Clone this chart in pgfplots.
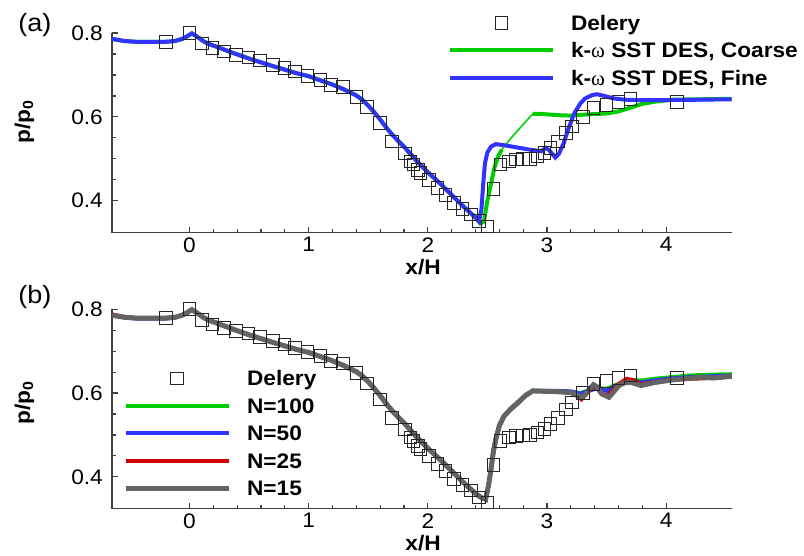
\documentclass[border=0pt]{standalone}
\usepackage{fontspec}
\setmainfont[FakeStretch=1.08]{Liberation Sans}
\newfontfamily\grk{Liberation Serif}
\usepackage{pgfplots}
\pgfplotsset{compat=1.18}

\definecolor{cgreen}{RGB}{0,204,0}
\definecolor{cblue}{RGB}{51,51,255}
\definecolor{cred}{RGB}{210,0,0}
\definecolor{cgray}{RGB}{100,100,100}

% experimental points (Delery)
\pgfplotstableread{
x y
-0.198 0.779
0.00 0.800
0.104 0.775
0.193 0.764
0.29 0.756
0.39 0.748
0.496 0.742
0.594 0.734
0.70 0.724
0.796 0.716
0.888 0.708
0.99 0.698
1.10 0.688
1.19 0.676
1.29 0.671
1.40 0.648
1.49 0.623
1.60 0.585
1.70 0.541
1.81 0.513
1.855 0.494
1.88 0.486
1.92 0.474
1.94 0.466
2.01 0.450
2.08 0.430
2.15 0.414
2.22 0.395
2.29 0.380
2.36 0.367
2.43 0.351
2.50 0.339
2.55 0.428
2.61 0.486
2.68 0.494
2.74 0.498
2.80 0.499
2.86 0.500
2.92 0.506
2.98 0.514
3.03 0.526
3.09 0.541
3.16 0.561
3.21 0.577
3.30 0.600
3.39 0.621
3.50 0.629
3.60 0.636
3.70 0.642
4.09 0.636
}\delery

\pgfplotsset{
  myaxis/.style={
    width=619.7pt,height=199.7pt,scale only axis,
    xmin=-0.65,xmax=4.55,ymin=0.3238,ymax=0.8,
    axis x line*=bottom,axis y line*=left,
    axis line style={line width=1.5pt,color=black!75},
    tick style={line width=1.2pt,color=black!75},
    tick align=inside,major tick length=6pt,minor tick length=4pt,
    xtick={0,1,2,3,4},minor x tick num=4,
    ytick={0.4,0.6,0.8},minor y tick num=3,
    ticklabel style={font=\fontsize{21}{24}\selectfont},
    /pgf/number format/assume math mode=true,
    yticklabel style={inner sep=0pt,xshift=-9pt},
    xticklabel style={inner sep=0pt,yshift=-4.5pt},
    clip=false,
    legend image code/.code={\draw[mark repeat=2,mark phase=2,##1] plot coordinates {(0pt,0pt) (51.5pt,0pt) (103pt,0pt)};},
    legend style={draw=none,fill=none,inner sep=0pt,outer sep=0pt,
      row sep=0pt,column sep=16pt,anchor=north west,
      font=\fontsize{21}{24}\selectfont\bfseries,
      nodes={inner sep=0pt,minimum height=27.5pt,text height=15pt,text depth=0pt,anchor=west}},
  },
  exp/.style={only marks,mark=square,mark size=6.3pt,
    mark options={draw=black!85,line width=1pt,fill=none}},
}

\begin{document}
\begin{tikzpicture}
\path[use as bounding box] (0,0) rectangle (804pt,555pt);
% ---------- (a) ----------
\begin{axis}[myaxis,at={(112pt,322.3pt)},anchor=south west,
  legend style={at={(0.5422,1.119)}}]
  \addplot[exp] table {\delery};
  \addlegendentry{Delery}
  \addplot[cgreen,line width=4pt] coordinates {
    (-0.65,0.786)(-0.55,0.781)(-0.45,0.779)(-0.3,0.779)(-0.2,0.779)(-0.12,0.781)
    (-0.06,0.786)(-0.02,0.792)(0.02,0.799)(0.06,0.792)(0.12,0.780)(0.16,0.774)
    (0.25,0.765)(0.35,0.754)(0.5,0.739)(0.7,0.721)(0.9,0.704)(1.0,0.697)
    (1.1,0.687)(1.2,0.677)(1.3,0.665)(1.4,0.651)(1.45,0.641)(1.5,0.627)
    (1.55,0.611)(1.6,0.594)(1.65,0.575)(1.7,0.558)(1.75,0.543)(1.8,0.529)
    (1.9,0.497)(2.0,0.468)(2.1,0.442)(2.2,0.414)(2.3,0.386)(2.4,0.360)
    (2.44,0.346)(2.47,0.350)(2.5,0.400)(2.53,0.440)(2.56,0.480)(2.59,0.505)(2.62,0.522)};
  \addlegendentry{k-{\grk\mdseries ω} SST DES, Coarse}
  \addplot[cgreen,line width=1.5pt,forget plot] coordinates {
    (2.62,0.522)(2.7,0.550)(2.8,0.582)(2.88,0.607)};
  \addplot[cgreen,line width=4pt,forget plot] coordinates {
    (2.88,0.607)(2.95,0.607)(3.1,0.604)(3.2,0.603)(3.35,0.606)(3.5,0.608)
    (3.6,0.613)(3.7,0.622)(3.8,0.631)(3.9,0.636)(4.05,0.641)(4.3,0.642)(4.55,0.643)};
  \addplot[cblue,line width=4pt] coordinates {
    (-0.65,0.786)(-0.55,0.781)(-0.45,0.779)(-0.3,0.779)(-0.2,0.779)(-0.12,0.781)
    (-0.06,0.786)(-0.02,0.792)(0.02,0.799)(0.06,0.792)(0.12,0.780)(0.16,0.774)
    (0.25,0.765)(0.35,0.754)(0.5,0.739)(0.7,0.721)(0.9,0.704)(1.0,0.697)
    (1.1,0.687)(1.2,0.677)(1.3,0.665)(1.4,0.651)(1.45,0.641)(1.5,0.627)
    (1.55,0.611)(1.6,0.594)(1.65,0.575)(1.7,0.558)(1.75,0.543)(1.8,0.529)
    (1.9,0.497)(2.0,0.468)(2.1,0.442)(2.2,0.414)(2.3,0.386)(2.4,0.360)
    (2.43,0.351)(2.45,0.380)(2.465,0.440)(2.48,0.490)(2.5,0.515)(2.53,0.529)
    (2.57,0.535)(2.65,0.532)(2.75,0.527)(2.85,0.522)(2.95,0.518)(2.99,0.526)
    (3.02,0.520)(3.07,0.503)(3.1,0.512)(3.14,0.537)(3.18,0.572)(3.23,0.609)
    (3.28,0.632)(3.32,0.644)(3.38,0.652)(3.42,0.654)(3.48,0.650)(3.56,0.644)
    (3.65,0.641)(3.75,0.640)(4.0,0.640)(4.3,0.641)(4.55,0.642)};
  \addlegendentry{k-{\grk\mdseries ω} SST DES, Fine}
  \node[font=\fontsize{25}{28}\selectfont] at (axis description cs:-0.1243,1.040) {(a)};
  \node[font=\fontsize{21}{24}\selectfont\bfseries,rotate=90] at (axis description cs:-0.1412,0.554) {p/p\textsubscript{0}};
  \node[font=\fontsize{21}{24}\selectfont\bfseries] at (axis description cs:0.502,-0.174) {x/H};
\end{axis}
% ---------- (b) ----------
\begin{axis}[myaxis,at={(112pt,46.3pt)},anchor=south west,
  height=199.4pt,legend style={at={(0.0178,0.7227)}}]
  \addplot[exp] table {\delery};
  \addlegendentry{Delery}
  \addplot[cgreen,line width=4pt] coordinates {
    (-0.65,0.787)(-0.55,0.781)(-0.45,0.779)(-0.3,0.779)(-0.2,0.779)(-0.12,0.781)
    (-0.06,0.786)(-0.02,0.792)(0.02,0.799)(0.06,0.792)(0.12,0.780)(0.16,0.774)
    (0.25,0.765)(0.35,0.754)(0.5,0.739)(0.7,0.721)(0.9,0.704)(1.0,0.697)
    (1.1,0.687)(1.2,0.677)(1.3,0.665)(1.4,0.651)(1.45,0.641)(1.5,0.627)
    (1.55,0.611)(1.6,0.594)(1.65,0.575)(1.7,0.558)(1.75,0.543)(1.8,0.529)
    (1.9,0.497)(2.0,0.468)(2.1,0.442)(2.2,0.414)(2.3,0.386)(2.4,0.360)
    (2.45,0.350)(2.485,0.346)(2.51,0.380)(2.53,0.417)(2.55,0.460)(2.57,0.489)
    (2.6,0.522)(2.64,0.545)(2.69,0.562)(2.75,0.577)(2.82,0.595)(2.88,0.606)
    (3.0,0.605)(3.1,0.604)(3.2,0.603)(3.28,0.600)(3.35,0.606)(3.42,0.612)
    (3.5,0.610)(3.6,0.622)(3.7,0.631)(3.8,0.630)(3.9,0.634)(4.05,0.638)
    (4.2,0.642)(4.4,0.644)(4.55,0.645)};
  \addlegendentry{N=100}
  \addplot[cblue,line width=4pt] coordinates {
    (-0.65,0.786)(-0.55,0.781)(-0.45,0.778)(-0.3,0.778)(-0.2,0.778)(-0.12,0.780)
    (-0.06,0.786)(-0.02,0.792)(0.02,0.799)(0.06,0.792)(0.12,0.780)(0.16,0.774)
    (0.25,0.765)(0.35,0.754)(0.5,0.739)(0.7,0.721)(0.9,0.704)(1.0,0.697)
    (1.1,0.687)(1.2,0.677)(1.3,0.665)(1.4,0.651)(1.45,0.641)(1.5,0.627)
    (1.55,0.611)(1.6,0.594)(1.65,0.575)(1.7,0.558)(1.75,0.543)(1.8,0.529)
    (1.9,0.497)(2.0,0.468)(2.1,0.442)(2.2,0.414)(2.3,0.386)(2.4,0.360)
    (2.45,0.350)(2.485,0.346)(2.51,0.380)(2.53,0.417)(2.55,0.460)(2.57,0.489)
    (2.6,0.522)(2.64,0.545)(2.69,0.560)(2.75,0.575)(2.82,0.594)(2.88,0.605)
    (3.0,0.605)(3.1,0.605)(3.2,0.604)(3.28,0.598)(3.35,0.606)(3.42,0.611)
    (3.5,0.605)(3.6,0.620)(3.7,0.630)(3.8,0.625)(3.9,0.630)(4.05,0.635)
    (4.2,0.638)(4.4,0.640)(4.55,0.642)};
  \addlegendentry{N=50}
  \addplot[cred,line width=4pt] coordinates {
    (-0.65,0.788)(-0.55,0.782)(-0.45,0.779)(-0.3,0.779)(-0.2,0.779)(-0.12,0.781)
    (-0.06,0.786)(-0.02,0.792)(0.02,0.799)(0.06,0.792)(0.12,0.780)(0.16,0.774)
    (0.25,0.765)(0.35,0.754)(0.5,0.739)(0.7,0.721)(0.9,0.704)(1.0,0.697)
    (1.1,0.687)(1.2,0.677)(1.3,0.665)(1.4,0.651)(1.45,0.641)(1.5,0.627)
    (1.55,0.611)(1.6,0.594)(1.65,0.575)(1.7,0.558)(1.75,0.543)(1.8,0.529)
    (1.9,0.497)(2.0,0.468)(2.1,0.442)(2.2,0.414)(2.3,0.386)(2.4,0.360)
    (2.45,0.350)(2.485,0.346)(2.51,0.380)(2.53,0.417)(2.55,0.460)(2.57,0.489)
    (2.6,0.522)(2.64,0.545)(2.69,0.561)(2.75,0.576)(2.82,0.595)(2.88,0.605)
    (3.0,0.604)(3.1,0.603)(3.2,0.601)(3.25,0.594)(3.29,0.585)(3.33,0.598)
    (3.39,0.617)(3.42,0.612)(3.46,0.597)(3.5,0.593)(3.54,0.603)(3.6,0.621)
    (3.67,0.634)(3.72,0.631)(3.79,0.621)(3.9,0.626)(4.01,0.631)(4.2,0.634)
    (4.4,0.636)(4.55,0.640)};
  \addlegendentry{N=25}
  \addplot[cgray,line width=5pt] coordinates {
    (-0.65,0.786)(-0.55,0.781)(-0.45,0.779)(-0.3,0.779)(-0.2,0.779)(-0.12,0.781)
    (-0.06,0.786)(-0.02,0.792)(0.02,0.799)(0.06,0.792)(0.12,0.780)(0.16,0.774)
    (0.25,0.765)(0.35,0.754)(0.5,0.739)(0.7,0.721)(0.9,0.704)(1.0,0.697)
    (1.1,0.687)(1.2,0.677)(1.3,0.665)(1.4,0.651)(1.45,0.641)(1.5,0.627)
    (1.55,0.611)(1.6,0.594)(1.65,0.575)(1.7,0.558)(1.75,0.543)(1.8,0.529)
    (1.9,0.497)(2.0,0.468)(2.1,0.442)(2.2,0.414)(2.3,0.386)(2.4,0.360)
    (2.45,0.350)(2.485,0.346)(2.51,0.380)(2.53,0.417)(2.55,0.460)(2.57,0.489)
    (2.6,0.522)(2.64,0.545)(2.69,0.560)(2.75,0.575)(2.82,0.594)(2.88,0.605)
    (3.0,0.604)(3.1,0.603)(3.2,0.601)(3.25,0.595)(3.29,0.589)(3.33,0.600)
    (3.39,0.620)(3.42,0.615)(3.46,0.598)(3.52,0.590)(3.56,0.603)(3.6,0.617)
    (3.645,0.624)(3.7,0.626)(3.79,0.618)(3.9,0.625)(4.07,0.632)(4.3,0.638)
    (4.4,0.636)(4.55,0.640)};
  \addlegendentry{N=15}
  \node[font=\fontsize{25}{28}\selectfont] at (axis description cs:-0.1243,1.062) {(b)};
  \node[font=\fontsize{21}{24}\selectfont\bfseries,rotate=90] at (axis description cs:-0.1412,0.53) {p/p\textsubscript{0}};
  \node[font=\fontsize{21}{24}\selectfont\bfseries] at (axis description cs:0.502,-0.175) {x/H};
\end{axis}
\end{tikzpicture}
\end{document}
